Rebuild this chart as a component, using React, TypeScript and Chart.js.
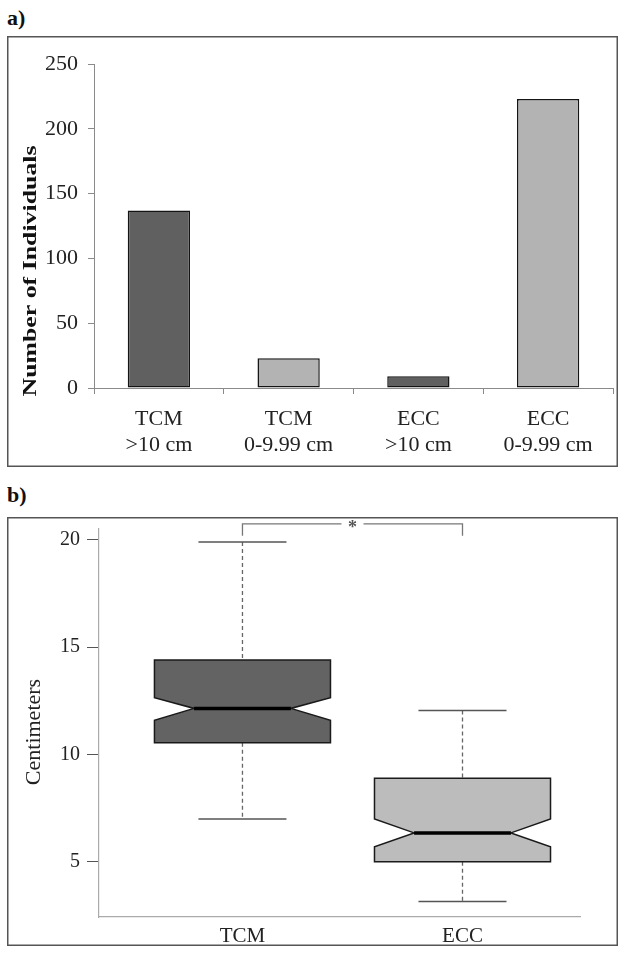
import React, { useEffect, useRef } from 'react';
import { Chart, registerables } from 'chart.js';

Chart.register(...registerables);

// ---------- Panel a) data ----------
const barCategories = [
  ['TCM', '>10 cm'],
  ['TCM', '0-9.99 cm'],
  ['ECC', '>10 cm'],
  ['ECC', '0-9.99 cm'],
];
const barValues = [137, 23, 9, 223];
const barColors = ['#606060', '#b3b3b3', '#606060', '#b3b3b3'];
const barYTicks = [0, 50, 100, 150, 200, 250];
const barYTitle = 'Number of Individuals';

// ---------- Panel b) data ----------
const boxCategories = ['TCM', 'ECC'];
const boxLowerWhisker = [7.0, 3.15];
const boxQ1 = [10.55, 5.0];
const boxNotchLow = [11.6, 5.7];
const boxMedian = [12.15, 6.35];
const boxNotchHigh = [12.65, 7.0];
const boxQ3 = [14.4, 8.9];
const boxUpperWhisker = [19.9, 12.05];
const boxColors = ['#636363', '#bcbcbc'];
const boxYTicks = [5, 10, 15, 20];
const boxYTitle = 'Centimeters';
const sigFrom = 1;
const sigTo = 2;
const sigLevel = 20.75;
const sigDrop = 20.2;
const sigLabel = '*';

const SERIF = '"Liberation Serif", "Times New Roman", serif';

const framePlugin = {
  id: 'frame',
  afterDraw(chart: any) {
    const c = chart.ctx;
    c.save();
    c.strokeStyle = '#555';
    c.lineWidth = 1.5;
    c.strokeRect(0.75, 0.75, chart.width - 1.5, chart.height - 1.5);
    c.restore();
  },
};

const sideTitlePlugin = {
  id: 'sideTitle',
  afterDraw(chart: any, _args: any, opts: any) {
    if (!opts || !opts.text) return;
    const c = chart.ctx;
    c.save();
    c.font = opts.font;
    c.fillStyle = opts.color || '#111';
    c.textAlign = 'center';
    c.textBaseline = 'middle';
    c.translate(opts.x, opts.y);
    c.rotate(-Math.PI / 2);
    if (opts.length) {
      const w = c.measureText(opts.text).width;
      c.scale(opts.length / w, 1);
    }
    c.fillText(opts.text, 0, 0);
    c.restore();
  },
};

const BOX_HALF = 0.4;
const NOTCH_HALF = 0.22;
const CAP_HALF = 0.2;

const notchedBoxPlugin = {
  id: 'notchedBox',
  afterDatasetsDraw(chart: any) {
    const xs = chart.scales.x;
    const ys = chart.scales.y;
    const c = chart.ctx;
    c.save();
    boxCategories.forEach((_, i) => {
      const v = i + 1;
      const cx = xs.getPixelForValue(v);
      const hw = xs.getPixelForValue(v + BOX_HALF) - cx;
      const nw = xs.getPixelForValue(v + NOTCH_HALF) - cx;
      const cw = xs.getPixelForValue(v + CAP_HALF) - cx;
      const yLW = ys.getPixelForValue(boxLowerWhisker[i]);
      const yQ1 = ys.getPixelForValue(boxQ1[i]);
      const yNL = ys.getPixelForValue(boxNotchLow[i]);
      const yMed = ys.getPixelForValue(boxMedian[i]);
      const yNH = ys.getPixelForValue(boxNotchHigh[i]);
      const yQ3 = ys.getPixelForValue(boxQ3[i]);
      const yUW = ys.getPixelForValue(boxUpperWhisker[i]);

      // whiskers (dashed)
      c.strokeStyle = '#666';
      c.lineWidth = 1.3;
      c.setLineDash([4, 3]);
      c.beginPath();
      c.moveTo(cx, yUW);
      c.lineTo(cx, yQ3);
      c.moveTo(cx, yQ1);
      c.lineTo(cx, yLW);
      c.stroke();
      c.setLineDash([]);
      // caps
      c.strokeStyle = '#555';
      c.lineWidth = 1.5;
      c.beginPath();
      c.moveTo(cx - cw, yUW);
      c.lineTo(cx + cw, yUW);
      c.moveTo(cx - cw, yLW);
      c.lineTo(cx + cw, yLW);
      c.stroke();
      // notched box
      c.beginPath();
      c.moveTo(cx - hw, yQ3);
      c.lineTo(cx + hw, yQ3);
      c.lineTo(cx + hw, yNH);
      c.lineTo(cx + nw, yMed);
      c.lineTo(cx + hw, yNL);
      c.lineTo(cx + hw, yQ1);
      c.lineTo(cx - hw, yQ1);
      c.lineTo(cx - hw, yNL);
      c.lineTo(cx - nw, yMed);
      c.lineTo(cx - hw, yNH);
      c.closePath();
      c.fillStyle = boxColors[i];
      c.fill();
      c.strokeStyle = '#1a1a1a';
      c.lineWidth = 1.5;
      c.stroke();
      // median
      c.strokeStyle = '#000';
      c.lineWidth = 3.5;
      c.beginPath();
      c.moveTo(cx - nw, yMed);
      c.lineTo(cx + nw, yMed);
      c.stroke();
    });

    // significance bracket
    const x1 = xs.getPixelForValue(sigFrom);
    const x2 = xs.getPixelForValue(sigTo);
    const yTop = ys.getPixelForValue(sigLevel);
    const yBot = ys.getPixelForValue(sigDrop);
    const mid = (x1 + x2) / 2;
    const gap = 11;
    c.strokeStyle = '#777';
    c.lineWidth = 1.3;
    c.beginPath();
    c.moveTo(x1, yBot);
    c.lineTo(x1, yTop);
    c.lineTo(mid - gap, yTop);
    c.moveTo(mid + gap, yTop);
    c.lineTo(x2, yTop);
    c.lineTo(x2, yBot);
    c.stroke();
    c.fillStyle = '#555';
    c.font = `bold 18px ${SERIF}`;
    c.textAlign = 'center';
    c.textBaseline = 'middle';
    c.fillText(sigLabel, mid, yTop + 4);
    c.restore();
  },
};

function BarPanel() {
  const ref = useRef<HTMLCanvasElement>(null);
  useEffect(() => {
    const chart = new Chart(ref.current as HTMLCanvasElement, {
      type: 'bar',
      data: {
        labels: barCategories as any,
        datasets: [
          {
            data: barValues,
            backgroundColor: barColors,
            borderColor: '#141414',
            borderWidth: 1.5,
            borderSkipped: false,
            barPercentage: 0.48,
            categoryPercentage: 1,
          },
        ],
      },
      options: {
        animation: false,
        responsive: false,
        devicePixelRatio: 1,
        layout: { padding: { left: 0, top: 28, right: 5, bottom: 0 } },
        plugins: {
          legend: { display: false },
          tooltip: { enabled: false },
          sideTitle: {
            text: barYTitle,
            x: 24,
            y: 235,
            font: `bold 18px ${SERIF}`,
            color: '#111',
            length: 251,
          },
        } as any,
        scales: {
          x: {
            grid: {
              display: true,
              drawOnChartArea: false,
              offset: true,
              tickLength: 6,
              color: '#8a8a8a',
            },
            border: { color: '#8a8a8a', width: 1 },
            ticks: {
              font: { family: SERIF, size: 22, lineHeight: 1.18 },
              color: '#222',
              padding: 12,
              maxRotation: 0,
              autoSkip: false,
            },
            afterFit: (s: any) => {
              s.height = 79;
            },
          },
          y: {
            min: 0,
            max: 250,
            afterBuildTicks: (s: any) => {
              s.ticks = barYTicks.map((v) => ({ value: v }));
            },
            grid: {
              drawOnChartArea: false,
              tickLength: 6,
              color: '#8a8a8a',
            },
            border: { color: '#8a8a8a', width: 1 },
            ticks: {
              font: { family: SERIF, size: 22 },
              color: '#222',
              padding: 10,
            },
            afterFit: (s: any) => {
              s.width = 87;
            },
          },
        },
      },
      plugins: [framePlugin, sideTitlePlugin],
    });
    return () => chart.destroy();
  }, []);
  return (
    <canvas
      ref={ref}
      width={611}
      height={431}
      style={{ position: 'absolute', left: 7, top: 36, width: 611, height: 431 }}
    />
  );
}

function BoxPanel() {
  const ref = useRef<HTMLCanvasElement>(null);
  useEffect(() => {
    const chart = new Chart(ref.current as HTMLCanvasElement, {
      type: 'scatter',
      data: {
        datasets: [
          {
            data: boxMedian.map((m, i) => ({ x: i + 1, y: m })),
            pointRadius: 0,
            showLine: false,
          },
        ],
      },
      options: {
        animation: false,
        responsive: false,
        devicePixelRatio: 1,
        layout: { padding: { left: 0, top: 12, right: 38, bottom: 0 } },
        plugins: {
          legend: { display: false },
          tooltip: { enabled: false },
          sideTitle: {
            text: boxYTitle,
            x: 27,
            y: 215,
            font: `22px ${SERIF}`,
            color: '#222',
          },
        } as any,
        scales: {
          x: {
            type: 'linear',
            min: 0.348,
            max: 2.534,
            afterBuildTicks: (s: any) => {
              s.ticks = boxCategories.map((_, i) => ({ value: i + 1 }));
            },
            grid: { display: false, drawTicks: false },
            border: { color: '#aaa', width: 1.2 },
            ticks: {
              font: { family: SERIF, size: 21 },
              color: '#222',
              padding: 7,
              maxRotation: 0,
              autoSkip: false,
              callback: (v: any) => boxCategories[Math.round(v) - 1] ?? '',
            },
            afterFit: (s: any) => {
              s.height = 29;
              s.paddingLeft = 0;
              s.paddingRight = 0;
            },
          },
          y: {
            min: 2.43,
            max: 20.51,
            afterBuildTicks: (s: any) => {
              s.ticks = boxYTicks.map((v) => ({ value: v }));
            },
            grid: {
              drawOnChartArea: false,
              tickLength: 12,
              color: '#555',
            },
            border: { color: '#aaa', width: 1.2 },
            ticks: {
              font: { family: SERIF, size: 20 },
              color: '#222',
              padding: 7,
            },
            afterFit: (s: any) => {
              s.width = 92;
              s.paddingTop = 0;
              s.paddingBottom = 0;
            },
          },
        },
      },
      plugins: [framePlugin, sideTitlePlugin, notchedBoxPlugin],
    });
    return () => chart.destroy();
  }, []);
  return (
    <canvas
      ref={ref}
      width={611}
      height={429}
      style={{ position: 'absolute', left: 7, top: 517, width: 611, height: 429 }}
    />
  );
}

const panelLabel: React.CSSProperties = {
  position: 'absolute',
  left: 7,
  fontFamily: SERIF,
  fontWeight: 'bold',
  fontSize: 22,
  lineHeight: '25px',
  color: '#111',
};

export default function App() {
  return (
    <div
      style={{
        position: 'absolute',
        left: 0,
        top: 0,
        width: 625,
        height: 957,
        background: '#fff',
        overflow: 'hidden',
      }}
    >
      <div style={{ ...panelLabel, top: 5 }}>a)</div>
      <BarPanel />
      <div style={{ ...panelLabel, top: 482 }}>b)</div>
      <BoxPanel />
    </div>
  );
}
